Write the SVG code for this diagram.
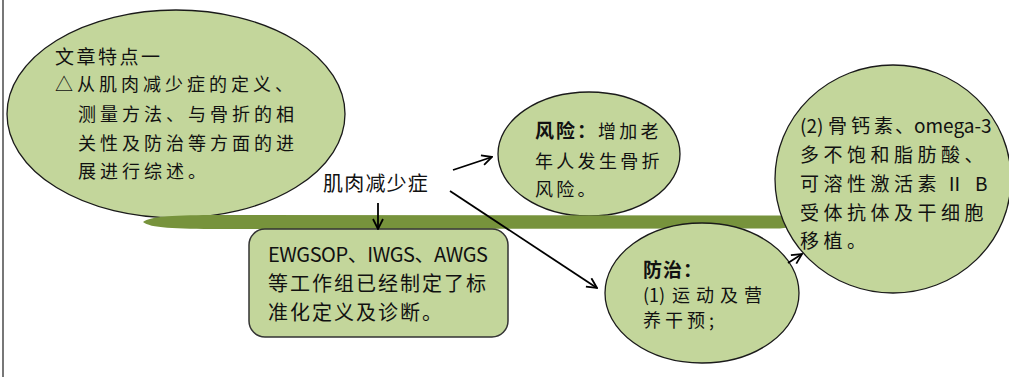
<svg xmlns="http://www.w3.org/2000/svg" width="1009" height="377" viewBox="0 0 1009 377">
<defs>
<marker id="arr" viewBox="0 0 12 12" refX="11" refY="6" markerWidth="12" markerHeight="12" markerUnits="userSpaceOnUse" orient="auto">
<path d="M1,1 L11,6 L1,11" fill="none" stroke="#000" stroke-width="1.8"/>
</marker>
</defs>
<style>
.node{fill:#C3D69B;stroke:#1a1a1a;stroke-width:1.3}
.t{font-family:"Noto Sans CJK SC","Noto Sans",sans-serif;fill:#111}
.conn line{stroke:#000;stroke-width:1.8;marker-end:url(#arr)}
</style>
<rect width="1009" height="377" fill="#fff"/>
<line x1="3" y1="0" x2="3" y2="377" stroke="#555" stroke-width="1.6"/>

<g id="node-features">
<ellipse class="node" cx="176" cy="114" rx="169" ry="104"/>
<text class="t" x="55" y="64" font-size="19" letter-spacing="2.5">文章特点一</text>
<text class="t" font-size="18" letter-spacing="4">
<tspan x="55" y="91">△从肌肉减少症的定义、</tspan>
<tspan x="78" y="121">测量方法、与骨折的相</tspan>
<tspan x="78" y="150">关性及防治等方面的进</tspan>
<tspan x="78" y="178">展进行综述。</tspan>
</text>
</g>

<g id="node-risk">
<ellipse class="node" cx="589" cy="154" rx="91" ry="62"/>
<text class="t" x="535" y="138"><tspan font-size="19" font-weight="bold" letter-spacing="2">风险：</tspan><tspan font-size="18" letter-spacing="3.3">增加老</tspan></text>
<text class="t" font-size="18" letter-spacing="3.3">
<tspan x="535" y="168">年人发生骨折</tspan>
<tspan x="535" y="196">风险。</tspan>
</text>
</g>

<g id="bar">
<path d="M143,222 C150,216 175,215 220,215 L780,215.5 L792,218 L792,227 L780,228.5 L220,229 C175,229 150,228 143,222 Z" fill="#77933C"/>
</g>

<g id="node-definition">
<rect class="node" x="249" y="229" width="259" height="108" rx="16" ry="16" style="stroke:#333;stroke-width:1.5"/>
<text class="t" x="268" y="262" font-size="20" textLength="220" lengthAdjust="spacing">EWGSOP、IWGS、AWGS</text>
<text class="t" font-size="20" letter-spacing="2">
<tspan x="268" y="291">等工作组已经制定了标</tspan>
<tspan x="268" y="320">准化定义及诊断。</tspan>
</text>
</g>

<g id="node-prevention">
<ellipse class="node" cx="702" cy="293" rx="97" ry="70"/>
<text class="t" x="643" y="277" font-size="19" font-weight="bold" letter-spacing="1">防治：</text>
<text class="t" y="302" font-size="18"><tspan x="643">(1)</tspan><tspan x="672" letter-spacing="6">运动及营</tspan></text>
<text class="t" x="643" y="327" font-size="18" letter-spacing="4">养干预;</text>
</g>

<g id="node-therapy">
<ellipse class="node" cx="893" cy="179" rx="118" ry="114"/>
<text class="t" y="133" font-size="19"><tspan x="800">(2)</tspan><tspan x="828" letter-spacing="4">骨钙素</tspan><tspan x="895">、</tspan><tspan x="914">omega-3</tspan></text>
<text class="t" x="800" y="162" font-size="19" letter-spacing="4.5">多不饱和脂肪酸、</text>
<text class="t" y="191" font-size="19"><tspan x="800" letter-spacing="4.5">可溶性激活素</tspan><tspan x="945">Ⅱ</tspan><tspan x="975">B</tspan></text>
<text class="t" x="800" y="220" font-size="19" letter-spacing="4.5">受体抗体及干细胞</text>
<text class="t" x="800" y="248" font-size="19" letter-spacing="4.5">移植。</text>
</g>

<g id="node-center">
<text class="t" x="323" y="191" font-size="20" letter-spacing="1.2">肌肉减少症</text>
</g>

<g class="conn" id="connectors">
<line x1="378" y1="203" x2="378" y2="229"/>
<line x1="453" y1="170" x2="492" y2="157"/>
<line x1="450" y1="191" x2="597" y2="288"/>
<line x1="788" y1="263" x2="802" y2="254"/>
</g>
</svg>
